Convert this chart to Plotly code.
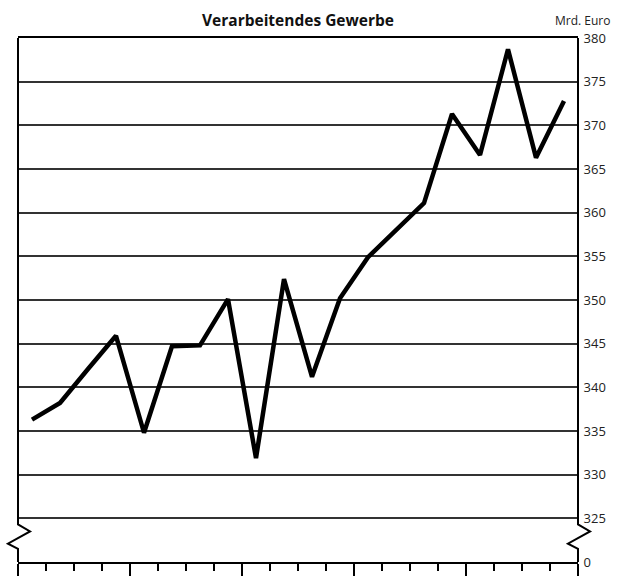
import plotly.graph_objects as go

# ---- data (quarterly, Mrd. Euro) ----
quarters = list(range(20))
values = [336.3, 338.2, 342.1, 345.9, 334.8, 344.7, 344.8, 350.1, 331.9, 352.4,
          341.2, 350.2, 354.9, 358.0, 361.1, 371.3, 366.6, 378.7, 366.3, 372.8]
ytick_vals = [320, 325, 330, 335, 340, 345, 350, 355, 360, 365, 370, 375, 380]
ytick_text = ["0", "325", "330", "335", "340", "345", "350", "355", "360", "365", "370", "375", "380"]
title_text = "Verarbeitendes Gewerbe"
unit_text = "Mrd. Euro"

FONT = "Open Sans"
Y0, Y1 = 320, 380
X0, X1 = 0, 20
x_centers = [q + 0.5 for q in quarters]

fig = go.Figure()
fig.add_trace(go.Scatter(x=x_centers, y=values, mode="lines",
                         line=dict(color="black", width=4.5), hoverinfo="skip",
                         showlegend=False))

# axis frame with break zigzag on both sides (paper coords so it is not clipped)
def py(v):
    return (v - Y0) / (Y1 - Y0)

def px_(q):
    return (q - X0) / (X1 - X0)

def side_path(xp):
    pts = [(xp, py(380)), (xp, py(324.3)), (xp + px_(0.43), py(323.5)),
           (xp - px_(0.36), py(322.1)), (xp, py(321.5)), (xp, py(320))]
    return "M " + " L ".join(f"{a:.5f},{b:.5f}" for a, b in pts)

for xp in (0.0, 1.0):
    fig.add_shape(type="path", path=side_path(xp), xref="paper", yref="paper",
                  line=dict(color="black", width=2), layer="above")

fig.update_layout(
    width=622, height=576,
    margin=dict(l=18, r=44, t=38, b=14),
    plot_bgcolor="white", paper_bgcolor="white",
    font=dict(family=FONT, size=13, color="#222"),
    xaxis=dict(range=[X0, X1], showgrid=False, zeroline=False, automargin=False,
               showline=True, linecolor="black", linewidth=2, mirror=True,
               tickmode="array", tickvals=[0, 4, 8, 12, 16, 20],
               ticks="outside", ticklen=14, tickwidth=1.5, tickcolor="black",
               showticklabels=False,
               minor=dict(tickmode="array", tickvals=list(range(21)),
                          ticks="outside", ticklen=7, tickwidth=1.5,
                          tickcolor="black")),
    yaxis=dict(range=[Y0, Y1], side="right", showline=False, zeroline=False,
               automargin=False,
               tickmode="array", tickvals=ytick_vals, ticktext=ytick_text,
               showgrid=True, gridcolor="#333", gridwidth=1.5,
               ticks="outside", ticklen=2, tickcolor="rgba(0,0,0,0)",
               tickfont=dict(size=13, color="#222")),
    annotations=[
        dict(text=f"<b>{title_text}</b>", xref="paper", yref="paper",
             x=0.5, y=1, yshift=18, xanchor="center", yanchor="middle",
             showarrow=False, font=dict(size=15.5, color="#111")),
        dict(text=unit_text, xref="paper", yref="paper",
             x=1, y=1, xshift=34, yshift=18, xanchor="right", yanchor="middle",
             showarrow=False, font=dict(size=12, color="#222")),
    ],
)

fig.write_html("out.html", config={"displayModeBar": False},
               post_script="document.body.style.margin='0';document.body.style.overflow='hidden';")
